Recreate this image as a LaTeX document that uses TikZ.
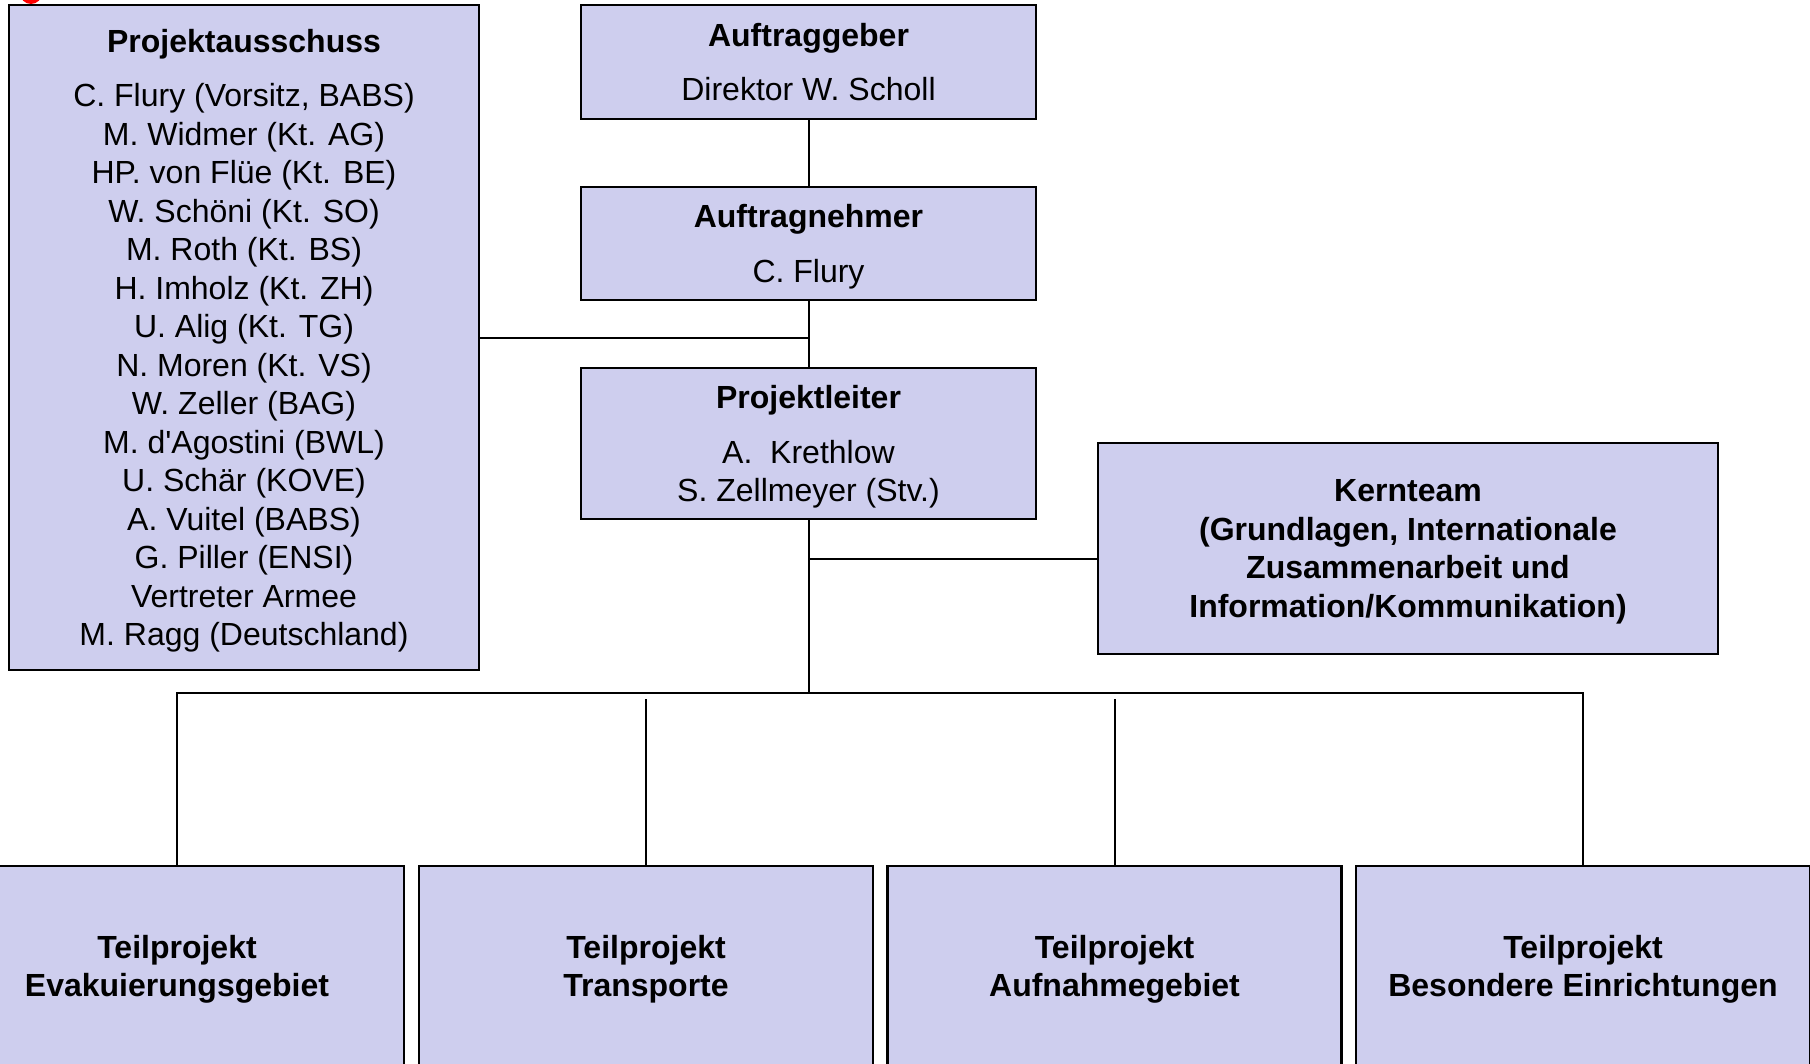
\documentclass[tikz,border=0pt]{standalone}
\usepackage{fontspec}
\setmainfont{Liberation Sans}
\definecolor{boxfill}{RGB}{206,206,238}
\tikzset{every node/.style={font=\fontsize{32}{38.5}\selectfont},
  box/.style={draw=black,fill=boxfill,line width=2.5pt,align=center,inner sep=0pt,text depth=-1pt}}

\begin{document}
\begin{tikzpicture}[x=1pt,y=-1pt,line width=2pt]
  \clip (0,0) rectangle (1810,1063);
  \fill[red] (31,-7) circle (11);
  \begin{scope}
   \node[box,text depth=-5pt,minimum width=470,minimum height=665] (a) at (244,337.5) {\textbf{Projektausschuss}\\[16pt]
     C. Flury (Vorsitz, BABS)\\ M. Widmer (Kt. AG)\\ HP. von Flüe (Kt. BE)\\ W. Schöni (Kt. SO)\\
     M. Roth (Kt. BS)\\ H. Imholz (Kt. ZH)\\ U. Alig (Kt. TG)\\ N. Moren (Kt. VS)\\ W. Zeller (BAG)\\
     M. d\textquotesingle Agostini (BWL)\\ U. Schär (KOVE)\\ A. Vuitel (BABS)\\ G. Piller (ENSI)\\ Vertreter Armee\\
     M. Ragg (Deutschland)};
   \node[box,minimum width=455,minimum height=114] (b) at (808.5, 62.0) {\textbf{Auftraggeber}\\[16pt] Direktor W. Scholl};
   \node[box,minimum width=455,minimum height=113] (c) at (808.5,243.5) {\textbf{Auftragnehmer}\\[16pt] C. Flury};
   \node[box,minimum width=455,minimum height=151] (d) at (808.5,443.5) {\textbf{Projektleiter}\\[16pt] A.\ \ Krethlow\\ S. Zellmeyer (Stv.)};
   \node[box,text depth=-8pt,minimum width=620,minimum height=211] (k) at (1408,548.5) {\textbf{Kernteam}\\ \textbf{(Grundlagen, Internationale}\\
     \textbf{Zusammenarbeit und}\\ \textbf{Information/Kommunikation)}};
  \end{scope}
  \begin{scope}
   \node[box,minimum width=454,minimum height=200] (p) at ( 177.0,966) {\textbf{Teilprojekt}\\ \textbf{Evakuierungsgebiet}};
   \node[box,minimum width=454,minimum height=200] (q) at ( 646.0,966) {\textbf{Teilprojekt}\\ \textbf{Transporte}};
   \node[box,minimum width=454,minimum height=200] (r) at (1114.5,966) {\textbf{Teilprojekt}\\ \textbf{Aufnahmegebiet}};
   \node[box,minimum width=454,minimum height=200] (s) at (1583.0,966) {\textbf{Teilprojekt}\\ \textbf{Besondere Einrichtungen}};
  \end{scope}
  \coordinate (m) at (808.5,693);
  \draw (b.south) -- (c.north);
  \draw (c.south) -- (d.north);
  \draw (a.east) -- (a.east -| c.south);
  \draw ([yshift=-10pt]k.west) -- ([yshift=-10pt]k.west -| d.south);
  \draw (d.south) -- (m);
  \draw (p.north) |- (s.north |- m) -- (s.north);
  \foreach \t in {q,r} \draw ([yshift=-6pt]\t.north |- m) -- (\t.north);
\end{tikzpicture}
\end{document}
